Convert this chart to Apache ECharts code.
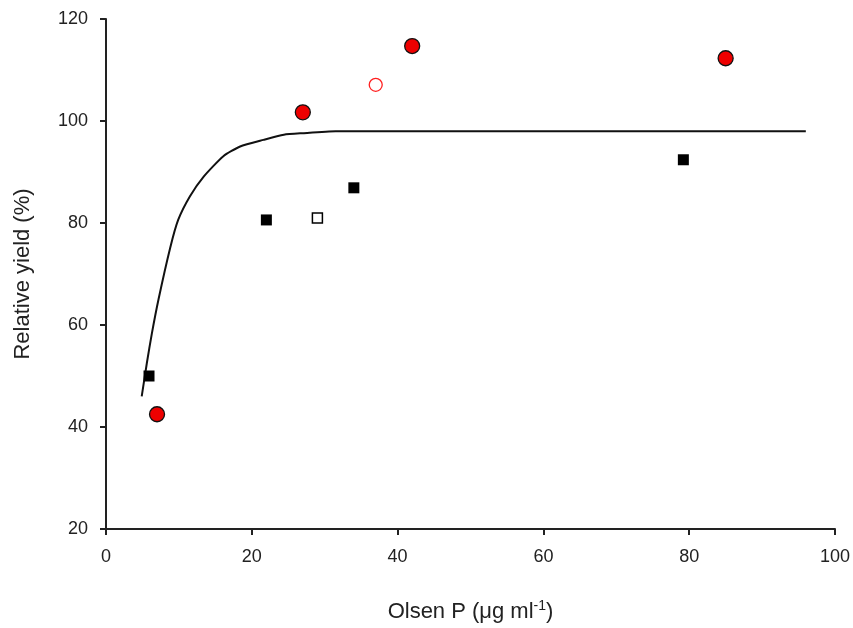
<!DOCTYPE html>
<html><head><meta charset="utf-8">
<script src="https://cdn.jsdelivr.net/npm/echarts@6/dist/echarts.min.js"></script>
<style>html,body{margin:0;padding:0;background:#fff}#c{width:853px;height:628px}</style>
</head><body><div id="c"></div>
<script>
var xTicks = [0, 20, 40, 60, 80, 100];
var yTicks = [20, 40, 60, 80, 100, 120];
var redFilled = [[7, 42.5], [27, 101.7], [42, 114.7], [85, 112.3]];
var redOpen = [[37, 107.1]];
var blackFilled = [[5.9, 50], [22, 80.6], [34, 86.9], [79.2, 92.4]];
var blackOpen = [[29, 81]];
var curveX = [4.9, 5.6, 6.3, 7.2, 8.8, 9.9, 11.5, 13.4, 16.1, 18.4, 21.6, 24.4, 26.9, 31.5, 96];
var curveY = [46.0, 52.5, 58.4, 65.0, 75.1, 80.6, 85.2, 89.1, 93.1, 95.0, 96.3, 97.3, 97.6, 98.0, 98.0];
var curve = curveX.map(function (x, i) { return [x, curveY[i]]; });

var FONT = 'Liberation Sans, Arial';
var chart = echarts.init(document.getElementById('c'));
var axisCommon = {
  axisLine: { show: true, lineStyle: { color: '#222', width: 2 } },
  axisTick: { show: true, inside: false, length: 6, lineStyle: { color: '#222', width: 2 } },
  splitLine: { show: false },
  axisLabel: { color: '#222', fontFamily: FONT, fontSize: 18 }
};
chart.setOption({
  animation: false,
  backgroundColor: '#fff',
  grid: { left: 106, right: 18, top: 19, bottom: 99, containLabel: false },
  xAxis: Object.assign({}, axisCommon, {
    type: 'value', min: xTicks[0], max: xTicks[xTicks.length - 1], interval: 20,
    name: '{a|Olsen P (μg ml}{s|-1}{a|)}',
    nameLocation: 'middle', nameGap: 70,
    nameTextStyle: { rich: {
      a: { fontFamily: FONT, fontSize: 22, color: '#222' },
      s: { fontFamily: FONT, fontSize: 14, color: '#222', verticalAlign: 'top', padding: [0, 0, 12, 0] }
    } },
    axisLabel: Object.assign({}, axisCommon.axisLabel, { margin: 19 })
  }),
  yAxis: Object.assign({}, axisCommon, {
    type: 'value', min: yTicks[0], max: yTicks[yTicks.length - 1], interval: 20,
    name: 'Relative yield (%)', nameLocation: 'middle', nameGap: 72,
    nameTextStyle: { fontFamily: FONT, fontSize: 22, color: '#222' },
    axisLabel: Object.assign({}, axisCommon.axisLabel, { margin: 18 })
  }),
  series: [
    { type: 'line', data: curve, symbol: 'none', smooth: 0.2,
      lineStyle: { color: '#111', width: 2 }, z: 1 },
    { type: 'scatter', data: redFilled, symbol: 'circle', symbolSize: 15,
      itemStyle: { color: '#ee0000', borderColor: '#111', borderWidth: 1.3, opacity: 1 }, z: 3 },
    { type: 'scatter', data: redOpen, symbol: 'circle', symbolSize: 13,
      itemStyle: { color: '#fff', borderColor: '#ff2020', borderWidth: 1.3, opacity: 1 }, z: 3 },
    { type: 'scatter', data: blackFilled, symbol: 'rect', symbolSize: 11,
      itemStyle: { color: '#000', opacity: 1 }, z: 3 },
    { type: 'scatter', data: blackOpen, symbol: 'rect', symbolSize: 10,
      itemStyle: { color: '#fff', borderColor: '#000', borderWidth: 1.5, opacity: 1 }, z: 3 }
  ]
});
</script></body></html>
